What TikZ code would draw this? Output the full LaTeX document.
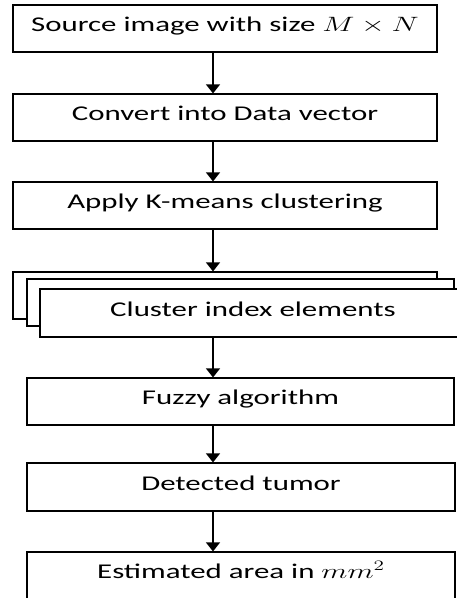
\documentclass[tikz,border=0pt]{standalone}
\usepackage{fontspec}
\setmainfont{Carlito}
\usetikzlibrary{arrows.meta}
\tikzset{
  stepbox/.style={draw, line width=1.2pt, fill=white, minimum height=47pt, inner sep=0pt,
    text height=14pt, text depth=8pt, font=\fontsize{21}{24}\selectfont},
  arr/.style={line width=1.3pt, -{Triangle[width=14pt,length=9pt]}},
}
\newcommand{\wtxt}[1]{\scalebox{1.47}[1]{#1}}
\begin{document}
\begin{tikzpicture}[x=1pt,y=-1pt]
\clip (0,0) rectangle (457,598);
\coordinate (ax) at (213,0);
\node[stepbox, minimum width=424pt] (b1) at (225,28.5) {\wtxt{Source image with size $M\times N$}};
\node[stepbox, minimum width=424pt] (b2) at (225,117.5) {\wtxt{Convert into Data vector}};
\node[stepbox, minimum width=424pt] (b3) at (225,205.5) {\wtxt{Apply K-means clustering}};
\node[stepbox, minimum width=424pt] (c1) at (225,295.5) {};
\node[stepbox, minimum width=427pt] (c2) at (240.5,302.5) {};
\node[stepbox, minimum width=426pt, minimum height=48pt] (c3) at (253,313) {\wtxt{Cluster index elements}};
\node[stepbox, minimum width=427pt] (b5) at (240.5,401.5) {\wtxt{Fuzzy algorithm}};
\node[stepbox, minimum width=428pt, minimum height=48pt] (b6) at (241,487) {\wtxt{Detected tumor}};
\node[stepbox, minimum width=428pt] (b7) at (241,575.5) {\wtxt{Estimated area in $mm^2$}};
\draw[arr] (b1.south -| ax) -- (b2.north -| ax);
\draw[arr] (b2.south -| ax) -- (b3.north -| ax);
\draw[arr] (b3.south -| ax) -- (c1.north -| ax);
\draw[arr] (c3.south -| ax) -- (b5.north -| ax);
\draw[arr] (b5.south -| ax) -- (b6.north -| ax);
\draw[arr] (b6.south -| ax) -- (b7.north -| ax);
\end{tikzpicture}
\end{document}
